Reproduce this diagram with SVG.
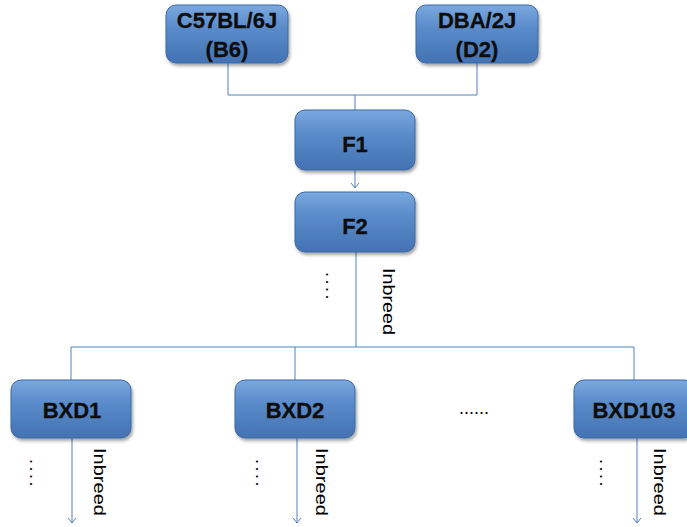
<svg xmlns="http://www.w3.org/2000/svg" width="687" height="527" viewBox="0 0 687 527">
  <defs>
    <linearGradient id="boxGrad" x1="0" y1="0" x2="0" y2="1">
      <stop offset="0" stop-color="#7AA8DF"/>
      <stop offset="0.4" stop-color="#5A8BCA"/>
      <stop offset="1" stop-color="#4372B2"/>
    </linearGradient>
    <filter id="shadow" x="-10%" y="-10%" width="125%" height="135%">
      <feDropShadow dx="1.5" dy="2.5" stdDeviation="1.8" flood-color="#000" flood-opacity="0.35"/>
    </filter>
    <marker id="arrow" viewBox="0 0 10 10" refX="9" refY="5" markerWidth="10" markerHeight="10" markerUnits="userSpaceOnUse" orient="auto">
      <path d="M4,1 L9,5 L4,9" fill="none" stroke="#4F81BD" stroke-width="1"/>
    </marker>
  </defs>
  <style>
    .box { fill: url(#boxGrad); stroke: #3B69A6; stroke-width: 1; filter: url(#shadow); }
    .lbl { font-family: "Liberation Sans", Arial, sans-serif; font-weight: bold; font-size: 22px; fill: #0D0D0D; text-anchor: middle; stroke: #0D0D0D; stroke-width: 0.3px; }
    .conn { fill: none; stroke: #4F81BD; stroke-width: 1; }
    .note { font-family: "Liberation Sans", Arial, sans-serif; font-size: 17px; fill: #000; }
    .dots { font-family: "Liberation Sans", Arial, sans-serif; font-size: 18px; fill: #000; letter-spacing: 2.5px; }
  </style>

  <g id="connectors">
    <path class="conn" d="M228,63 V95 H477 V63"/>
    <path class="conn" d="M355,95 V110"/>
    <path class="conn" d="M355,170 V188" marker-end="url(#arrow)"/>
    <path class="conn" d="M356,252 V347"/>
    <path class="conn" d="M71,380 V347 H634 V380"/>
    <path class="conn" d="M295,347 V380"/>
    <path class="conn" d="M72,438 V523" marker-end="url(#arrow)"/>
    <path class="conn" d="M297,438 V523" marker-end="url(#arrow)"/>
    <path class="conn" d="M637,438 V523" marker-end="url(#arrow)"/>
  </g>

  <g id="node-b6">
    <rect class="box" x="166" y="5" width="122" height="58" rx="10"/>
    <text class="lbl" x="227" y="28">C57BL/6J</text>
    <text class="lbl" x="227" y="57">(B6)</text>
  </g>
  <g id="node-d2">
    <rect class="box" x="416" y="5" width="122" height="58" rx="10"/>
    <text class="lbl" x="477" y="28">DBA/2J</text>
    <text class="lbl" x="477" y="57">(D2)</text>
  </g>
  <g id="node-f1">
    <rect class="box" x="295" y="110" width="120" height="60" rx="10"/>
    <text class="lbl" x="355" y="152">F1</text>
  </g>
  <g id="node-f2">
    <rect class="box" x="295" y="192" width="120" height="60" rx="10"/>
    <text class="lbl" x="355" y="234">F2</text>
  </g>
  <g id="node-bxd1">
    <rect class="box" x="11" y="380" width="120" height="58" rx="10"/>
    <text class="lbl" x="72" y="418">BXD1</text>
  </g>
  <g id="node-bxd2">
    <rect class="box" x="235" y="380" width="120" height="58" rx="10"/>
    <text class="lbl" x="295" y="418">BXD2</text>
  </g>
  <g id="node-bxd103">
    <rect class="box" x="574" y="380" width="120" height="58" rx="10"/>
    <text class="lbl" x="634" y="418">BXD103</text>
  </g>

  <g id="labels">
    <text class="note" transform="translate(383,268) rotate(90)" textLength="67" lengthAdjust="spacingAndGlyphs">Inbreed</text>
    <text class="note" transform="translate(94,448) rotate(90)" textLength="68" lengthAdjust="spacingAndGlyphs">Inbreed</text>
    <text class="note" transform="translate(316,448) rotate(90)" textLength="68" lengthAdjust="spacingAndGlyphs">Inbreed</text>
    <text class="note" transform="translate(654,448) rotate(90)" textLength="68" lengthAdjust="spacingAndGlyphs">Inbreed</text>
    <text class="dots" transform="translate(326,272) rotate(90)">....</text>
    <text class="dots" transform="translate(30,459) rotate(90)">....</text>
    <text class="dots" transform="translate(256,459) rotate(90)">....</text>
    <text class="dots" transform="translate(600,459) rotate(90)">....</text>
    <text class="dots" x="459" y="414" style="letter-spacing:0px">......</text>
  </g>
</svg>
